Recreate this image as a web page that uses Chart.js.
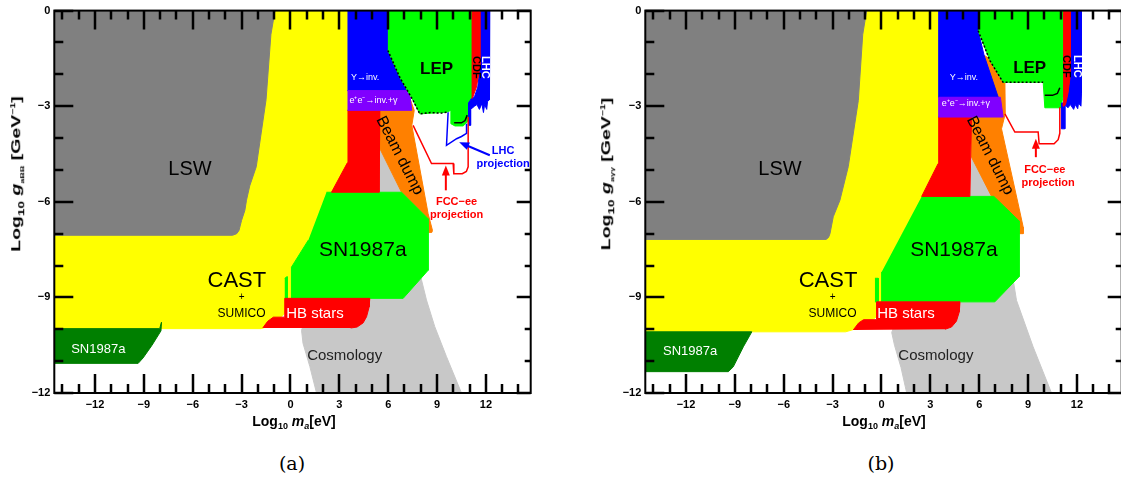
<!DOCTYPE html>
<html>
<head>
<meta charset="utf-8">
<script src="https://cdn.jsdelivr.net/npm/chart.js@4.4.0/dist/chart.umd.min.js"></script>
<style>
  body { margin:0; width:1121px; height:477px; overflow:hidden; background:#fff; font-family:"Liberation Sans", Arial, sans-serif; }
  .panel { position:absolute; top:0; width:560px; height:440px; }
  .ytitle { position:absolute; top:174px; white-space:nowrap; font-weight:bold; font-size:13px; transform:translate(-50%,-50%) rotate(-90deg) scaleX(1.5); }
  .xtitle { position:absolute; top:422px; white-space:nowrap; font-weight:bold; font-size:14px; transform:translate(-50%,-50%); }
  .ytitle sub, .xtitle sub { font-size:9px; }
  .ytitle sub.tiny { font-size:6px; }
  .ytitle sup { font-size:7px; }
  .cap { position:absolute; top:463px; font-family:"DejaVu Serif","Liberation Serif",serif; font-size:19px; transform:translate(-50%,-50%); }
</style>
</head>
<body>

<div class="panel" style="left:0"><canvas id="chartA" width="560" height="440"></canvas></div>
<div class="panel" style="left:591px"><canvas id="chartB" width="560" height="440"></canvas></div>

<div class="ytitle" style="left:17px">Log<sub>10</sub> <i>g</i><sub class="tiny">aBB</sub> [GeV<sup>−1</sup>]</div>
<div class="ytitle" style="left:607px">Log<sub>10</sub> <i>g</i><sub class="tiny">aγγ</sub> [GeV<sup>−1</sup>]</div>
<div class="xtitle" style="left:294px">Log<sub>10</sub> <i>m<sub>a</sub></i>[eV]</div>
<div class="xtitle" style="left:884px">Log<sub>10</sub> <i>m<sub>a</sub></i>[eV]</div>
<div class="cap" style="left:292px">(a)</div>
<div class="cap" style="left:881px">(b)</div>

<script>
// ============================================================
//  Axion exclusion plots (a) g_aBB and (b) g_aγγ
// ============================================================

const FONT = '"Liberation Sans", Arial, sans-serif';

// ── Axes ─────────────────────────────────────────────────
const X_MIN = -14.5, X_MAX = 14.75, Y_MIN = -12, Y_MAX = 0;
const xTickLabels = [-12, -9, -6, -3, 0, 3, 6, 9, 12];
const yTickLabels = [0, -3, -6, -9, -12];

const COLORS = {
  cosmo: '#c8c8c8', cast: '#ffff00', lsw: '#808080', beam: '#ff8000',
  sn: '#00ff00', hb: '#ff0000', red: '#ff0000', ups: '#0000ff',
  ee: '#8000ff', lep: '#00ff00', lhc: '#0000ff', cdf: '#ff0000', snLow: '#007f00'
};

// ── Panel (a): regions [log m_a, log g] ──────────────────
const cosmoA  = [[5.44,-4.28],[6.82,-5.7],[8.05,-8.46],[8.35,-9.08],[8.86,-9.92],[9.58,-10.86],[10.5,-12],[1.6,-12],[1.19,-11.17],[0.77,-10.44],[0.68,-10.03],[2.5,-7.5],[5.44,-5.7]];
const castA   = [[-14.5,0],[3.5,0],[3.5,-5.7],[2.21,-5.7],[1.1,-7.2],[0.06,-8.05],[0.06,-9.03],[-0.35,-9.5],[-1.0,-9.85],[-1.8,-9.98],[-14.5,-9.98]];
const lswA    = [[-14.5,0],[-0.95,0],[-1.2,-0.75],[-1.5,-2.8],[-2.1,-4.9],[-2.5,-5.5],[-2.7,-5.95],[-2.8,-6.27],[-3.0,-6.58],[-3.16,-6.9],[-3.3,-7.0],[-3.55,-7.05],[-14.5,-7.05]];
const beamA   = [[5.44,-2.5],[7.15,-2.5],[7.6,-3.13],[7.45,-3.6],[8.45,-6.37],[8.72,-6.9],[8.68,-6.96],[8.45,-6.96],[8.45,-6.53],[6.82,-5.7],[5.44,-4.28]];
const snA     = [[2.21,-5.7],[6.82,-5.7],[8.45,-6.53],[8.45,-8.15],[6.92,-9.03],[0.06,-9.03],[0.06,-8.05],[1.1,-7.2]];
const snSpikeA= [[-0.35,-8.4],[-0.2,-8.35],[-0.2,-9.03],[-0.35,-9.03]];
const hbA     = [[-1.7,-9.96],[-1.4,-9.75],[-1.05,-9.62],[-0.35,-9.62],[-0.35,-9.03],[4.87,-9.03],[4.83,-9.3],[4.67,-9.61],[4.46,-9.8],[4.09,-9.93],[3.7,-9.96]];
const redA    = [[3.5,-3.13],[5.49,-3.13],[5.44,-5.7],[2.52,-5.7],[3.5,-4.77]];
const upsA    = [[3.5,0],[5.98,0],[5.98,-1.25],[7.25,-2.51],[3.5,-2.51]];
const eeA     = [[3.5,-2.51],[7.3,-2.51],[7.45,-3.13],[3.5,-3.13]];
const lepA    = [[5.98,0],[11.12,0],[11.12,-2.72],[10.95,-2.9],[10.91,-3.34],[10.85,-3.5],[10.6,-3.62],[10.1,-3.62],[9.85,-3.55],[9.85,-3.13],[9.58,-3.19],[7.94,-3.24],[7.53,-2.82],[6.71,-2.09],[5.98,-1.25]];
const lhcA    = [[11.63,0],[12.24,0],[12.24,-2.35],[12.2,-2.8],[12.1,-2.85],[12.05,-3.1],[11.92,-2.95],[11.85,-3.2],[11.75,-2.92],[11.6,-3.1],[11.45,-2.95],[11.3,-3.0],[11.06,-3.1],[11.06,-3.6],[10.93,-3.6],[10.93,-2.9],[11.12,-2.75],[11.3,-2.7],[11.5,-2.4],[11.63,-1.8]];
const cdfA    = [[11.12,0],[11.63,0],[11.63,-1.78],[11.42,-2.4],[11.17,-2.75],[11.12,-2.75]];
const snLowA  = [[-14.5,-9.98],[-8.03,-9.98],[-7.92,-9.78],[-7.95,-10.05],[-8.5,-10.5],[-9.05,-10.9],[-9.35,-11.07],[-14.5,-11.07]];

const lepEdgeA = [[5.98,-1.25],[6.71,-2.09],[7.53,-2.82],[7.94,-3.24],[8.6,-3.2],[9.2,-3.22],[9.6,-3.19]];
const lepCurveA= [[10.05,-3.52],[10.5,-3.52],[10.72,-3.45],[10.85,-3.28]];
const fccA     = [[7.53,-3.6],[8.66,-4.8],[9.99,-4.8],[10.03,-5.12],[10.55,-5.12],[10.8,-5.05],[10.91,-4.9],[10.91,-3.34]];
const lhcProjA = [[9.68,-3.19],[9.58,-4.23],[10.2,-4.02],[10.5,-3.95],[10.81,-3.85],[10.81,-3.55]];

// ── Panel (b) ────────────────────────────────────────────
const cosmoB  = [[5.53,-4.6],[6.76,-5.83],[8.09,-8.46],[8.29,-9.09],[9.31,-10.55],[10.44,-12],[1.55,-12],[1.2,-11.2],[0.8,-10.5],[0.63,-10.1],[2.5,-7.5],[5.43,-5.83]];
const castB   = [[-14.5,0],[3.48,0],[3.48,-5.83],[2.47,-5.83],[0.01,-8.2],[0.01,-9.14],[-0.3,-9.6],[-1.0,-9.9],[-2.2,-10.08],[-14.5,-10.08]];
const lswB    = [[-14.5,0],[-0.91,0],[-1.15,-0.75],[-1.42,-2.82],[-2.04,-4.9],[-2.55,-5.95],[-2.96,-6.47],[-3.16,-7.0],[-3.25,-7.12],[-3.4,-7.18],[-14.5,-7.18]];
const beamB   = [[5.5,-2.72],[6.3,-1.4],[6.6,-1.5],[7.58,-2.25],[7.6,-3.24],[7.37,-3.71],[8.45,-6.2],[8.7,-6.79],[8.7,-7.0],[8.45,-7.0],[8.45,-6.6],[6.76,-5.83],[5.53,-4.6],[5.53,-3.34]];
const snB     = [[2.47,-5.83],[6.9,-5.83],[8.45,-6.6],[8.45,-8.35],[6.96,-9.14],[0.01,-9.14],[0.01,-8.2]];
const snSpikeB= [[-0.4,-8.4],[-0.2,-8.4],[-0.2,-9.14],[-0.4,-9.14]];
const hbB     = [[-1.73,-10.02],[-1.4,-9.8],[-1.1,-9.7],[-0.3,-9.7],[-0.3,-9.14],[4.82,-9.14],[4.78,-9.45],[4.6,-9.75],[4.3,-9.93],[3.9,-10.0]];
const redB    = [[3.48,-3.34],[5.53,-3.34],[5.43,-5.83],[2.47,-5.83],[3.48,-4.8]];
const upsB    = [[3.48,0],[5.94,0],[5.94,-0.63],[6.3,-1.4],[7.17,-2.72],[3.48,-2.72]];
const eeB     = [[3.48,-2.72],[7.3,-2.72],[7.47,-3.34],[3.48,-3.34]];
const lepB    = [[5.94,0],[11.15,0],[11.15,-2.7],[11.05,-2.95],[11.0,-3.05],[10.03,-3.05],[9.93,-2.25],[7.47,-2.25],[6.66,-1.57],[5.94,-0.63]];
const lhcB    = [[11.6,0],[12.28,0],[12.28,-2.6],[12.25,-3.0],[12.1,-2.9],[12.05,-3.08],[11.9,-2.95],[11.8,-3.1],[11.6,-2.95],[11.45,-3.05],[11.26,-2.95],[11.26,-3.71],[11.05,-3.71],[11.05,-2.9],[11.3,-2.9],[11.45,-2.6],[11.6,-2.0]];
const cdfB    = [[11.15,0],[11.6,0],[11.6,-2.0],[11.45,-2.6],[11.3,-2.95],[11.2,-3.0],[11.15,-2.9]];
const snLowB  = [[-14.5,-10.08],[-7.96,-10.08],[-8.48,-10.55],[-9.1,-11.18],[-9.4,-11.33],[-14.5,-11.33]];

const lepEdgeB = [[5.94,-0.63],[6.66,-1.57],[7.47,-2.25],[8.5,-2.25],[9.93,-2.25]];
const lepCurveB= [[10.03,-2.66],[10.5,-2.66],[10.8,-2.6],[10.95,-2.42]];
const fccB     = [[7.58,-3.24],[8.19,-3.81],[9.62,-3.81],[9.68,-4.18],[10.6,-4.18],[10.85,-4.05],[10.95,-3.85],[10.95,-3.03]];

// ── Text labels and arrows ───────────────────────────────
const labelsA = [
  { t:'LSW', at:[-6.17,-5.0], size:20 },
  { t:'CAST', at:[-3.29,-8.49], size:22 },
  { t:'+', at:[-3.0,-9.0], size:10 },
  { t:'SUMICO', at:[-3.0,-9.52], size:12 },
  { t:'SN1987a', at:[-11.8,-10.62], size:13, color:'#fff' },
  { t:'SN1987a', at:[4.44,-7.52], size:21 },
  { t:'HB stars', at:[1.5,-9.52], size:15, color:'#fff' },
  { t:'Cosmology', at:[3.33,-10.84], size:15, color:'#222' },
  { t:'Beam dump', at:[6.7,-4.55], size:16, rot:63 },
  { t:'Υ→inv.', at:[4.58,-2.1], size:9, color:'#fff' },
  { t:'e⁺e⁻→inv.+γ', at:[5.1,-2.82], size:9, color:'#fff' },
  { t:'LEP', at:[8.97,-1.83], size:17, bold:true },
  { t:'CDF', at:[11.38,-1.78], size:11, bold:true, rot:90 },
  { t:'LHC', at:[11.93,-1.78], size:11, bold:true, rot:90, color:'#fff' },
  { t:'FCC−ee', at:[10.2,-6.0], size:11, bold:true, color:'#ff0000' },
  { t:'projection', at:[10.2,-6.4], size:11, bold:true, color:'#ff0000' },
  { t:'LHC', at:[13.06,-4.39], size:11, bold:true, color:'#0000ff' },
  { t:'projection', at:[13.06,-4.8], size:11, bold:true, color:'#0000ff' }
];
const labelsB = [
  { t:'LSW', at:[-6.23,-5.0], size:20 },
  { t:'CAST', at:[-3.28,-8.49], size:22 },
  { t:'+', at:[-3.0,-9.0], size:10 },
  { t:'SUMICO', at:[-3.0,-9.52], size:12 },
  { t:'SN1987a', at:[-11.75,-10.68], size:13, color:'#fff' },
  { t:'SN1987a', at:[4.45,-7.52], size:21 },
  { t:'HB stars', at:[1.5,-9.52], size:15, color:'#fff' },
  { t:'Cosmology', at:[3.34,-10.84], size:15, color:'#222' },
  { t:'Beam dump', at:[6.66,-4.55], size:16, rot:63 },
  { t:'Υ→inv.', at:[5.06,-2.1], size:9, color:'#fff' },
  { t:'e⁺e⁻→inv.+γ', at:[5.18,-2.91], size:9, color:'#fff' },
  { t:'LEP', at:[9.1,-1.82], size:17, bold:true },
  { t:'CDF', at:[11.32,-1.75], size:11, bold:true, rot:90 },
  { t:'LHC', at:[11.99,-1.75], size:11, bold:true, rot:90, color:'#fff' },
  { t:'FCC−ee', at:[10.03,-5.01], size:11, bold:true, color:'#ff0000' },
  { t:'projection', at:[10.23,-5.42], size:11, bold:true, color:'#ff0000' }
];
const arrowsA = [
  { from:[9.54,-5.64], to:[9.54,-4.86], color:'#ff0000' },
  { from:[12.24,-4.54], to:[10.36,-4.13], color:'#0000ff' }
];
const arrowsB = [
  { from:[9.48,-4.6], to:[9.48,-4.02], color:'#ff0000' }
];

// ── Helpers ──────────────────────────────────────────────
const toXY = pts => pts.map(([x, y]) => ({ x, y }));
const fmt  = v => v < 0 ? '−' + Math.abs(v) : String(v);

const area = (pts, color) => ({
  data: toXY(pts), showLine:true, fill:'shape', backgroundColor:color,
  borderColor:color, borderWidth:1, pointRadius:0, tension:0
});
const curve = (pts, color, width, dash) => ({
  data: toXY(pts), showLine:true, fill:false, borderColor:color,
  borderWidth:width, borderDash:dash || [], pointRadius:0, tension:0
});

// ROOT style frame with inside ticks
const frameTicks = {
  id: 'frameTicks',
  afterDraw(chart) {
    const { ctx, chartArea: a, scales: { x, y } } = chart;
    ctx.save();
    ctx.strokeStyle = '#000';
    ctx.lineWidth = 2.5;
    ctx.beginPath();
    for (let v = Math.ceil(X_MIN); v <= X_MAX; v++) {
      const px = Math.round(x.getPixelForValue(v));
      const len = v % 3 === 0 ? 19 : 9;
      ctx.moveTo(px, a.bottom); ctx.lineTo(px, a.bottom - len);
      ctx.moveTo(px, a.top);    ctx.lineTo(px, a.top + len);
    }
    for (let v = Y_MIN; v <= Y_MAX; v++) {
      const py = Math.round(y.getPixelForValue(v));
      const major = v % 3 === 0;
      ctx.moveTo(a.left, py);  ctx.lineTo(a.left + (major ? 19 : 9), py);
      ctx.moveTo(a.right, py); ctx.lineTo(a.right - (major ? 14 : 6), py);
    }
    ctx.stroke();
    ctx.lineWidth = 2;
    ctx.strokeRect(a.left, a.top, a.width, a.height);
    ctx.restore();
  }
};

function annotations(labels, arrows) {
  return {
    id: 'annotations',
    afterDatasetsDraw(chart) {
      const { ctx, scales: { x, y } } = chart;
      ctx.save();
      arrows.forEach(ar => {
        const x0 = x.getPixelForValue(ar.from[0]), y0 = y.getPixelForValue(ar.from[1]);
        const x1 = x.getPixelForValue(ar.to[0]),   y1 = y.getPixelForValue(ar.to[1]);
        const ang = Math.atan2(y1 - y0, x1 - x0);
        ctx.strokeStyle = ctx.fillStyle = ar.color;
        ctx.lineWidth = 2;
        ctx.beginPath();
        ctx.moveTo(x0, y0);
        ctx.lineTo(x1 - 7 * Math.cos(ang), y1 - 7 * Math.sin(ang));
        ctx.stroke();
        ctx.beginPath();
        ctx.moveTo(x1, y1);
        ctx.lineTo(x1 - 10 * Math.cos(ang) + 4 * Math.sin(ang), y1 - 10 * Math.sin(ang) - 4 * Math.cos(ang));
        ctx.lineTo(x1 - 10 * Math.cos(ang) - 4 * Math.sin(ang), y1 - 10 * Math.sin(ang) + 4 * Math.cos(ang));
        ctx.closePath();
        ctx.fill();
      });
      ctx.textAlign = 'center';
      ctx.textBaseline = 'middle';
      labels.forEach(l => {
        ctx.save();
        ctx.translate(x.getPixelForValue(l.at[0]), y.getPixelForValue(l.at[1]));
        if (l.rot) ctx.rotate(l.rot * Math.PI / 180);
        ctx.font = (l.bold ? 'bold ' : '') + l.size + 'px ' + FONT;
        ctx.fillStyle = l.color || '#000';
        ctx.fillText(l.t, 0, 0);
        ctx.restore();
      });
      ctx.restore();
    }
  };
}

function makePanel(id, layers, lines, labels, arrows) {
  const datasets = layers.map(([pts, color]) => area(pts, color)).concat(lines);
  datasets.forEach((d, i) => { d.order = datasets.length - i; });
  return new Chart(document.getElementById(id), {
    type: 'line',
    data: { datasets },
    options: {
      responsive: false,
      animation: false,
      events: [],
      layout: { padding: { top:10, right:29.3, left:0, bottom:0 } },
      plugins: { legend:{ display:false }, tooltip:{ enabled:false } },
      scales: {
        x: {
          type:'linear', min:X_MIN, max:X_MAX,
          afterBuildTicks: s => { s.ticks = xTickLabels.map(v => ({ value:v })); },
          afterFit: s => { s.height = 47; },
          grid: { display:false, drawTicks:false }, border: { display:false },
          ticks: { padding:5, color:'#000', autoSkip:false, maxRotation:0,
                   font:{ family:FONT, size:11, weight:'bold' }, callback: fmt }
        },
        y: {
          type:'linear', min:Y_MIN, max:Y_MAX,
          afterBuildTicks: s => { s.ticks = yTickLabels.map(v => ({ value:v })); },
          afterFit: s => { s.width = 54.3; },
          grid: { display:false, drawTicks:false }, border: { display:false },
          ticks: { padding:4, color:'#000', autoSkip:false,
                   font:{ family:FONT, size:11, weight:'bold' }, callback: fmt }
        }
      }
    },
    plugins: [annotations(labels, arrows), frameTicks]
  });
}

makePanel('chartA', [
  [cosmoA, COLORS.cosmo], [castA, COLORS.cast], [lswA, COLORS.lsw], [beamA, COLORS.beam],
  [snA, COLORS.sn], [snSpikeA, COLORS.sn], [hbA, COLORS.hb], [redA, COLORS.red],
  [upsA, COLORS.ups], [eeA, COLORS.ee], [lepA, COLORS.lep], [lhcA, COLORS.lhc],
  [cdfA, COLORS.cdf], [snLowA, COLORS.snLow]
], [
  curve(lepEdgeA, '#000', 1.5, [2, 2]),
  curve(lepCurveA, '#000', 1.5),
  curve(fccA, '#ff0000', 1.5),
  curve(lhcProjA, '#0000ff', 1.5)
], labelsA, arrowsA);

makePanel('chartB', [
  [cosmoB, COLORS.cosmo], [castB, COLORS.cast], [lswB, COLORS.lsw], [beamB, COLORS.beam],
  [snB, COLORS.sn], [snSpikeB, COLORS.sn], [hbB, COLORS.hb], [redB, COLORS.red],
  [upsB, COLORS.ups], [eeB, COLORS.ee], [lepB, COLORS.lep], [lhcB, COLORS.lhc],
  [cdfB, COLORS.cdf], [snLowB, COLORS.snLow]
], [
  curve(lepEdgeB, '#000', 1.5, [2, 2]),
  curve(lepCurveB, '#000', 1.5),
  curve(fccB, '#ff0000', 1.5)
], labelsB, arrowsB);
</script>
</body>
</html>
